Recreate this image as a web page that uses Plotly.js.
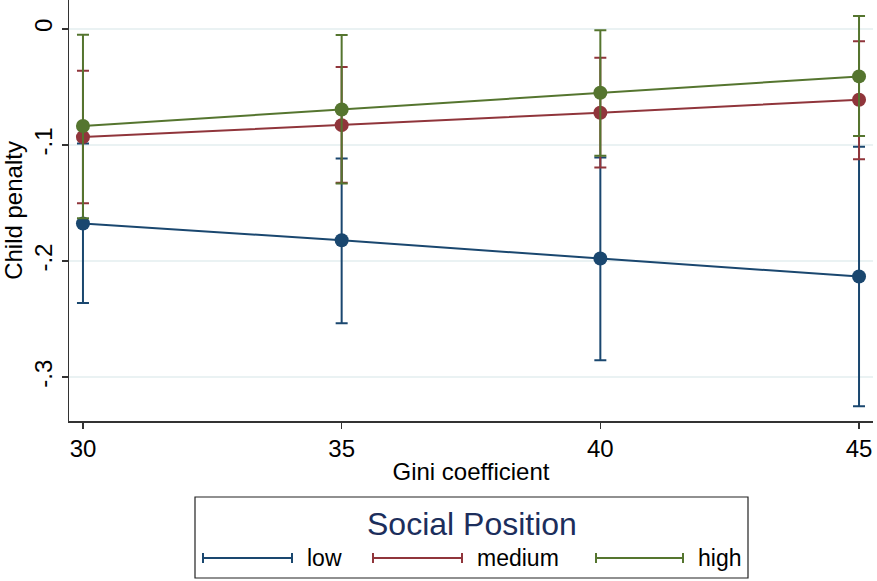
<!DOCTYPE html>
<html><head><meta charset="utf-8">
<script src="https://cdn.plot.ly/plotly-3.0.1.min.js"></script>
<style>body{margin:0;background:#fff}#c{width:877px;height:581px}</style>
</head><body><div id="c"></div>
<script>
const gini = [30, 35, 40, 45];
const seriesNames = ["low", "medium", "high"];
const lowEst = [-0.1675, -0.182, -0.1977, -0.2132];
const lowLo  = [-0.236, -0.2534, -0.2853, -0.325];
const lowHi  = [-0.0986, -0.1115, -0.1106, -0.1015];
const medEst = [-0.0931, -0.0828, -0.0721, -0.0609];
const medLo  = [-0.150, -0.1325, -0.1193, -0.1121];
const medHi  = [-0.036, -0.0328, -0.0247, -0.0106];
const highEst = [-0.0836, -0.0693, -0.0549, -0.0408];
const highLo  = [-0.163, -0.133, -0.1092, -0.0922];
const highHi  = [-0.0049, -0.0052, -0.0011, 0.0112];
const yTickVals = [0, -0.1, -0.2, -0.3];
const yTickText = ["0", "-.1", "-.2", "-.3"];
const xTickVals = [30, 35, 40, 45];
const legendTitle = "Social Position";

const colors = ["#1a476f", "#90353b", "#55752f"];
const FONT = "Liberation Sans, Arial, sans-serif";
const L = 69, R = 4, T = 0, B = 160, W = 877, H = 581;
const pw = W - L - R, ph = H - T - B;
const px = x => (x - L) / pw;
const py = y => (H - B - y) / ph;

function mk(name, est, lo, hi, color) {
  return {
    x: gini, y: est, name: name, type: "scatter", mode: "lines+markers",
    line: {color: color, width: 2},
    marker: {color: color, size: 14},
    error_y: {type: "data", symmetric: false,
      array: hi.map((v, i) => v - est[i]),
      arrayminus: est.map((v, i) => v - lo[i]),
      color: color, thickness: 2, width: 6},
    showlegend: false
  };
}
const data = [
  mk(seriesNames[0], lowEst, lowLo, lowHi, colors[0]),
  mk(seriesNames[1], medEst, medLo, medHi, colors[1]),
  mk(seriesNames[2], highEst, highLo, highHi, colors[2])
];

// custom legend
const shapes = [{type: "rect", xref: "paper", yref: "paper", x0: px(195), x1: px(748), y0: py(578), y1: py(497),
  line: {color: "#222", width: 1.2}, fillcolor: "rgba(0,0,0,0)"}];
const annotations = [{xref: "paper", yref: "paper", x: px(472), y: py(524), text: legendTitle, showarrow: false,
  xanchor: "center", yanchor: "middle", font: {family: FONT, size: 32, color: "#1c2e5c"}}];
const items = [[203, 292, 305], [373, 462, 475], [596, 683, 696]];
items.forEach((it, i) => {
  const yy = py(558);
  shapes.push({type: "line", xref: "paper", yref: "paper", x0: px(it[0]), x1: px(it[1]), y0: yy, y1: yy, line: {color: colors[i], width: 2}});
  [it[0], it[1]].forEach(xx => shapes.push({type: "line", xref: "paper", yref: "paper", x0: px(xx), x1: px(xx), y0: py(553), y1: py(563), line: {color: colors[i], width: 2}}));
  annotations.push({xref: "paper", yref: "paper", x: px(it[2]), y: yy, text: seriesNames[i], showarrow: false,
    xanchor: "left", yanchor: "middle", font: {family: FONT, size: 23, color: "#000"}});
});

const layout = {
  width: W, height: H, margin: {l: L, r: R, t: T, b: B},
  paper_bgcolor: "#fff", plot_bgcolor: "#fff",
  font: {family: FONT, color: "#000"},
  xaxis: {range: [29.73, 45.27], tickvals: xTickVals, ticks: "outside", ticklen: 6, tickcolor: "#333", tickwidth: 1.5,
    showline: true, linecolor: "#333", linewidth: 1.5, showgrid: false, zeroline: false,
    tickfont: {size: 24, family: FONT},
    title: {text: "Gini coefficient", font: {size: 24, family: FONT}, standoff: 2}},
  yaxis: {range: [-0.3377, 0.025], tickvals: yTickVals, ticktext: yTickText, tickangle: -90,
    ticks: "outside", ticklen: 6, tickcolor: "#333", tickwidth: 1.5,
    showline: true, linecolor: "#333", linewidth: 1.5, showgrid: true, gridcolor: "#eaf2f3", gridwidth: 1.5, zeroline: false,
    tickfont: {size: 24, family: FONT},
    title: {text: "Child penalty", font: {size: 24, family: FONT}, standoff: 2}},
  shapes: shapes, annotations: annotations, showlegend: false
};
Plotly.newPlot("c", data, layout, {displayModeBar: false, staticPlot: true});
</script></body></html>
